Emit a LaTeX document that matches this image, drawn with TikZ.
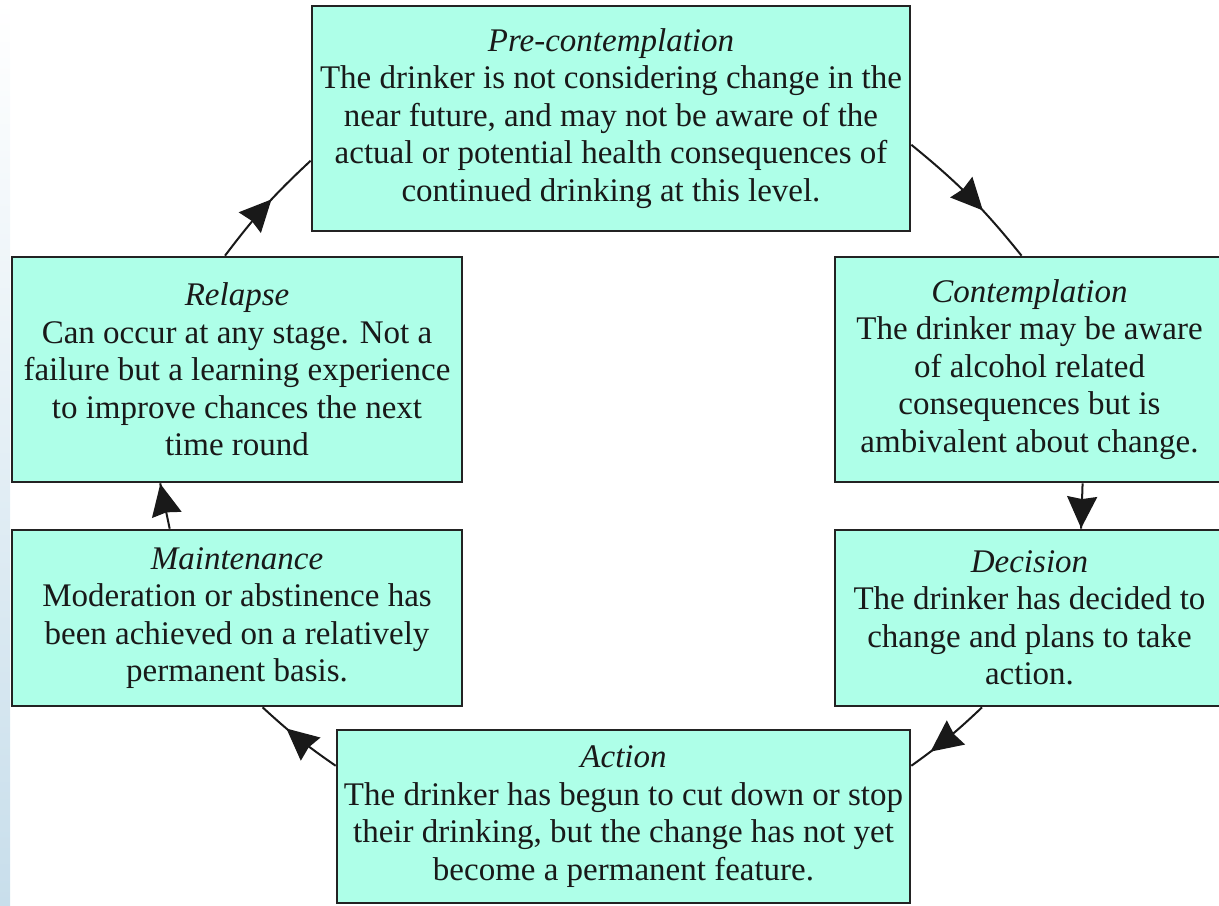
\documentclass[tikz,border=0pt]{standalone}
\usepackage{fontspec}
\setmainfont{Liberation Serif}
\usepackage{tikz}
\usepackage{xcolor}
\usetikzlibrary{arrows.meta, decorations.markings}
\definecolor{stagefill}{RGB}{174, 255, 232}
\definecolor{stageline}{RGB}{35, 35, 35}
\definecolor{stripblue}{RGB}{200, 222, 235}
\tikzset{
    stage/.style={rectangle, draw=stageline, line width=1.6pt, fill=stagefill, inner sep=0pt, align=center, text=black!90, font=\fontsize{19.8pt}{22.5pt}\selectfont},
    tallstage/.style={stage, minimum height=135pt},
    shortstage/.style={stage, minimum height=105.6pt},
    cycle/.style={draw=black!90, line width=1.2pt, postaction={decorate},
        decoration={markings, mark=at position #1 with {\arrow{Stealth[length=19pt, width=18pt, inset=1.5pt]}}}}
}

\begin{document}
\begin{tikzpicture}[x=0.6pt, y=-0.6pt]
    \useasboundingbox (0,0) rectangle (1219,905);
    \shade[top color=white, bottom color=stripblue] (0,0) rectangle (10,905);

    \node[tallstage, minimum width=358.8pt] (pre) at (611,118.5)
        {\textit{Pre-contemplation}\\The drinker is not considering change in the\\near future, and may not be aware of the\\actual or potential health consequences of\\continued drinking at this level.};
    \node[tallstage, minimum width=233.4pt] (cont) at (1029.5,369.5)
        {\textit{Contemplation}\\The drinker may be aware\\of alcohol related\\consequences but is\\ambivalent about change.};
    \node[shortstage, minimum width=233.4pt] (dec) at (1029.5,618)
        {\textit{Decision}\\The drinker has decided to\\change and plans to take\\action.};
    \node[stage, minimum width=343.8pt, minimum height=103.8pt] (action) at (623.5,816.5)
        {\textit{Action}\\The drinker has begun to cut down or stop\\their drinking, but the change has not yet\\become a permanent feature.};
    \node[shortstage, minimum width=270pt] (maint) at (237,618)
        {\textit{Maintenance}\\Moderation or abstinence has\\been achieved on a relatively\\permanent basis.};
    \node[tallstage, minimum width=270pt] (relapse) at (237,369.5)
        {\textit{Relapse}\\Can occur at any stage. Not a\\failure but a learning experience\\to improve chances the next\\time round};

    % the cycle
    \draw[cycle=0.62] (pre.355) to[bend left=6] (cont.94);
    \draw[cycle=0.99] (cont.295) -- (dec.60);
    \draw[cycle=0.74] (dec.242) to[bend left=4] (action.10);
    \draw[cycle=0.66] (action.170) to[bend left=4] (maint.286);
    \draw[cycle=0.99] (maint.127) -- (relapse.236);
    \draw[cycle=0.57] (relapse.96) to[bend left=5] (pre.188);
\end{tikzpicture}
\end{document}
